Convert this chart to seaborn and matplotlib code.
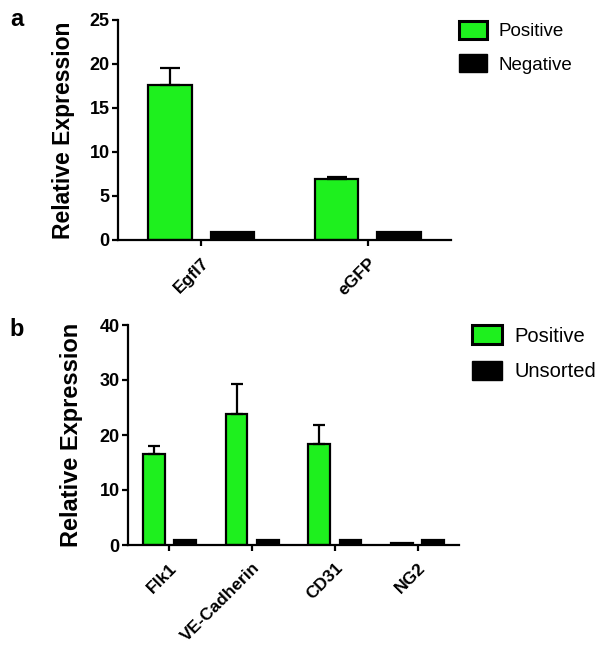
import numpy as np
import pandas as pd
import seaborn as sns
import matplotlib
matplotlib.use("Agg")
import matplotlib.pyplot as plt
from matplotlib.patches import Patch

# ---- data ----
genes_a = ["Egfl7", "eGFP"]
groups_a = ["Positive", "Negative"]
pos_a = [17.6, 6.9]
pos_a_err = [1.9, 0.25]
neg_a = [0.9, 0.9]
yticks_a = [0, 5, 10, 15, 20, 25]

genes_b = ["Flk1", "VE-Cadherin", "CD31", "NG2"]
groups_b = ["Positive", "Unsorted"]
pos_b = [16.5, 23.9, 18.3, 0.4]
pos_b_err = [1.5, 5.4, 3.5, 0.0]
uns_b = [0.9, 0.9, 0.9, 0.9]
yticks_b = [0, 10, 20, 30, 40]

GREEN = "#1EF01E"
FONT = "Liberation Sans"

sns.set_theme(style="ticks")
plt.rcParams["font.family"] = [FONT, "DejaVu Sans"]
plt.rcParams.update({
    "text.color": "black",
    "axes.labelcolor": "black",
    "xtick.color": "black",
    "ytick.color": "black",
    "axes.edgecolor": "black",
})

W, H = 604, 650
fig = plt.figure(figsize=(W / 100, H / 100), dpi=100)


def px_axes(x0, y0, x1, y1):
    return fig.add_axes([x0 / W, 1 - y1 / H, (x1 - x0) / W, (y1 - y0) / H])


def panel(ax, genes, groups, pos, err, other, yticks, capsize, ylab_size,
          ylab_x, ytick_size, xtick_size):
    n = len(genes)
    df = pd.DataFrame({
        "gene": genes * 2,
        "group": [groups[0]] * n + [groups[1]] * n,
        "value": list(pos) + list(other),
    })
    sns.barplot(data=df, x="gene", y="value", hue="group",
                palette=[GREEN, "black"], saturation=1, width=0.75, gap=0.3,
                edgecolor="black", linewidth=1.6, errorbar=None, legend=False,
                ax=ax)
    bars = ax.containers[0]
    xs = [b.get_x() + b.get_width() / 2 for b in bars]
    hs = [b.get_height() for b in bars]
    for x, h, e in zip(xs, hs, err):
        if e > 0:
            ax.errorbar([x], [h], yerr=[[0], [e]], fmt="none", ecolor="black",
                        elinewidth=1.6, capsize=capsize, capthick=1.6, zorder=3)
    ax.set_xlim(-0.5, n - 0.5)
    ax.set_ylim(0, yticks[-1])
    ax.set_yticks(yticks)
    ax.set_xlabel("")
    ax.set_ylabel("Relative Expression", fontsize=ylab_size, fontweight="bold",
                  color="black")
    ax.yaxis.set_label_coords(ylab_x, 0.5)
    sns.despine(ax=ax)
    for s in ["left", "bottom"]:
        ax.spines[s].set_linewidth(1.6)
        ax.spines[s].set_color("black")
    ax.tick_params(axis="y", direction="out", length=4, width=1.6,
                   colors="black", labelsize=ytick_size, pad=2)
    ax.tick_params(axis="x", direction="out", length=4, width=1.6,
                   colors="black", labelsize=xtick_size, pad=7)
    for lab in ax.get_yticklabels():
        lab.set_fontweight("bold")
    for lab in ax.get_xticklabels():
        lab.set_fontweight("bold")
        lab.set_rotation(45)
        lab.set_ha("right")
        lab.set_rotation_mode("anchor")
    ax.set_facecolor("white")


def legend(ax, groups, x, y, fs):
    handles = [Patch(facecolor=GREEN, edgecolor="black", linewidth=2.2),
               Patch(facecolor="black", edgecolor="black", linewidth=1)]
    leg = ax.legend(handles=handles, labels=groups, loc="upper left",
                    bbox_to_anchor=(x / W, 1 - y / H),
                    bbox_transform=fig.transFigure,
                    frameon=False, fontsize=fs, handlelength=1.5,
                    handleheight=1.1, labelspacing=0.75, handletextpad=0.6,
                    borderpad=0, borderaxespad=0)
    for t in leg.get_texts():
        t.set_color("black")


ax_a = px_axes(118, 20, 451, 240)
panel(ax_a, genes_a, groups_a, pos_a, pos_a_err, neg_a, yticks_a,
      capsize=7, ylab_size=16.5, ylab_x=-0.128, ytick_size=13, xtick_size=12.5)
legend(ax_a, groups_a, 459, 21, 13.5)

ax_b = px_axes(128, 325, 459, 545)
panel(ax_b, genes_b, groups_b, pos_b, pos_b_err, uns_b, yticks_b,
      capsize=4.5, ylab_size=17, ylab_x=-0.136, ytick_size=13, xtick_size=12.5)
legend(ax_b, groups_b, 472, 325, 14.5)

fig.text(10 / W, 1 - 8 / H, "a", fontsize=17, fontweight="bold", va="top")
fig.text(9 / W, 1 - 318 / H, "b", fontsize=17, fontweight="bold", va="top")

fig.savefig("out.png", dpi=100, facecolor="white")
